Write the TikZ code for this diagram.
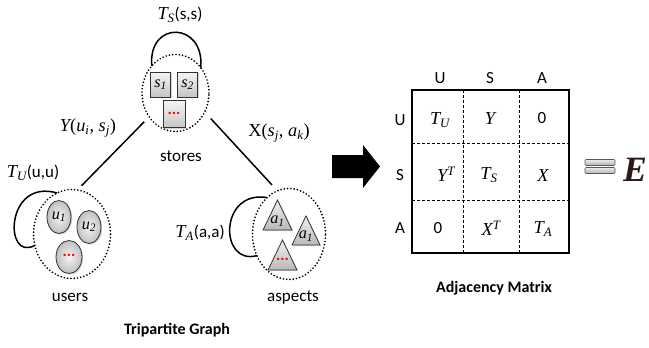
\documentclass[tikz,border=0pt]{standalone}
\usepackage{fontspec}
\setmainfont{Carlito}
\newfontfamily\vfont{Liberation Serif}[Scale=1.08]
\newcommand\myv[1]{{\vfont\itshape #1}}
\newcommand\mysub[2]{\myv{#1}\textsubscript{\myv{#2}}}
\newcommand\mysup[2]{\myv{#1}\textsuperscript{\myv{#2}}}
\newcommand\myup[1]{{\vfont #1}}
\usetikzlibrary{shapes.geometric,shadows}
\definecolor{edark}{RGB}{45,25,25}
\begin{document}
\begin{tikzpicture}[x=1pt,y=-1pt,
  every node/.style={font=\fontsize{17}{20}\selectfont, inner sep=0pt, outer sep=0pt},
  grp/.style={draw, ellipse, line width=1.9pt, dash pattern=on 0pt off 3.3pt, line cap=round},
  loopline/.style={line width=1.5pt},
  conn/.style={line width=1.5pt},
  shd/.style={drop shadow={opacity=0.35,shadow xshift=1.2pt,shadow yshift=-1.2pt}},
  sbox/.style={draw=black!80, line width=0.8pt, minimum width=20pt, minimum height=25pt,
     top color=gray!8, bottom color=gray!45, shd, font=\fontsize{15}{15}\selectfont},
  uell/.style={draw=black!80, ellipse, line width=0.8pt, minimum width=24pt, minimum height=33pt,
     inner color=gray!8, outer color=gray!50, shd, font=\fontsize{15}{15}\selectfont},
  tri/.style={draw=black!80, line width=0.8pt, top color=gray!12, bottom color=gray!55},
  tlab/.style={font=\fontsize{15}{15}\selectfont},
  reddots/.style={text=red, font=\fontsize{16}{16}\selectfont\bfseries},
  bold/.style={font=\fontsize{16}{18}\selectfont\bfseries},
  mcell/.style={font=\fontsize{17}{20}\selectfont},
  mdash/.style={line width=1pt, dash pattern=on 3pt off 2pt},
]
\useasboundingbox (0,0) rectangle (649,348);

% ---------- stores ----------
\node[grp, minimum width=67pt, minimum height=77pt] (stores) at (175.5,93) {};
\node[sbox] (s1) at (160.5,84.5) {\mysub{s}{1}};
\node[sbox] (s2) at (187.5,84.5) {\mysub{s}{2}};
\node[sbox, minimum width=22pt, minimum height=27pt] (s3) at (174,114) {};
\node[reddots] (s3d) at (174,113) {...};
\node (storeslbl) at (181,156) {stores};
\draw[loopline] (stores.131) .. controls +(-4,-46) and +(4,-46) .. (stores.45);
\node (tslbl) at (180,15) {\mysub{T}{S}(s,s)};

% ---------- users ----------
\node[grp, minimum width=77pt, minimum height=89pt] (users) at (72,234) {};
\node[uell] (u1) at (59,217) {\mysub{u}{1}};
\node[uell] (u2) at (89,227) {\mysub{u}{2}};
\node[uell, minimum width=26pt] (u3) at (69,257) {};
\node[reddots] (u3d) at (69,255) {...};
\node (userslbl) at (70,297) {users};
\draw[loopline] (users.110) .. controls +(-52,-15) and +(-31,17) .. (users.197);
\node (tulbl) at (33,173) {\mysub{T}{U}(u,u)};

% ---------- aspects ----------
\node[grp, minimum width=73pt, minimum height=91pt] (aspects) at (289,234) {};
\path[tri, shd] (263,230) -- (277.5,200) -- (292,230) -- cycle;
\path[tri, shd] (292,245) -- (306,216) -- (320,245) -- cycle;
\path[tri, shd] (268,270) -- (282.5,240) -- (297,270) -- cycle;
\node[tlab] (a1) at (277.5,221) {\mysub{a}{1}};
\node[tlab] (a2) at (306,236) {\mysub{a}{1}};
\node[reddots] (a3d) at (282.5,259) {...};
\node (aspectslbl) at (293,297) {aspects};
\draw[loopline] (aspects.121) .. controls +(-48,-8) and +(-38,10) .. (aspects.214);
\node (talbl) at (200,233) {\mysub{T}{A}(a,a)};

% ---------- connectors ----------
\draw[conn, shorten <=6pt, shorten >=7pt] (users.83) -- (stores.222);
\draw[conn, shorten <=9pt, shorten >=8pt] (stores.-33) -- (aspects.105);
\node (ylbl) at (88,128) {\myv{Y}\myup{(}\mysub{u}{i}\myup{, }\mysub{s}{j}\myup{)}};
\node (xlbl) at (279,133) {\myup{X(}\mysub{s}{j}\myup{, }\mysub{a}{k}\myup{)}};

\node[bold] (tg) at (177,330) {Tripartite Graph};

% ---------- big arrow ----------
\fill (332,155) -- (363,155) -- (363,145) -- (380,166.5) -- (363,188) -- (363,178) -- (332,178) -- cycle;

% ---------- matrix ----------
\node[draw, line width=1.5pt, minimum width=157pt, minimum height=163pt] (M) at (490.5,171.5) {};
\draw[mdash] (463,90) -- (463,253);
\draw[mdash] (519,90) -- (519,253);
\draw[mdash] (412,143) -- (569,143);
\draw[mdash] (412,200) -- (569,200);
\node (cu) at (440,78) {U};
\node (cs) at (490,78) {S};
\node (ca) at (542,78) {A};
\node (ru) at (400,120) {U};
\node (rs) at (400,175) {S};
\node (ra) at (400,228) {A};
\node[mcell] (m11) at (440,120) {\mysub{T}{U}};
\node[mcell] (m12) at (490,118) {\myv{Y}};
\node[mcell] (m13) at (542,118) {0};
\node[mcell] (m21) at (446,174) {\mysup{Y}{T}};
\node[mcell] (m22) at (489,175) {\mysub{T}{S}};
\node[mcell] (m23) at (543,175) {\myv{X}};
\node[mcell] (m31) at (438,228) {0};
\node[mcell] (m32) at (491,228) {\mysup{X}{T}};
\node[mcell] (m33) at (543,229) {\mysub{T}{A}};
\node[bold] (am) at (494,288) {Adjacency Matrix};

% ---------- = E ----------
\path[draw=gray!70!black, line width=0.6pt, top color=gray!15, bottom color=gray!60, rounded corners=1pt]
  (585,159.5) rectangle (615,165.5);
\path[draw=gray!70!black, line width=0.6pt, top color=gray!15, bottom color=gray!60, rounded corners=1pt]
  (585,167.5) rectangle (615,173.5);
\node[text=edark, font=\fontsize{33}{33}\selectfont\bfseries] (E) at (635,170) {\myv{E}};
\end{tikzpicture}
\end{document}
